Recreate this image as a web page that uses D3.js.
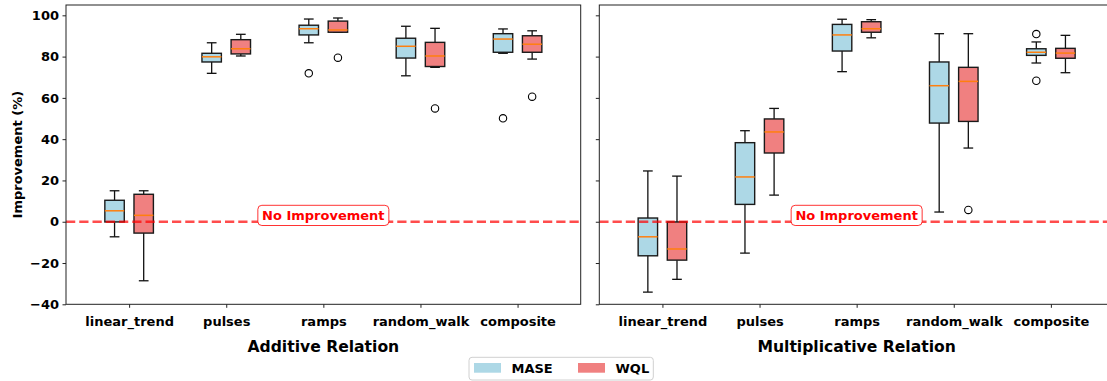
<!DOCTYPE html>
<html>
<head>
<meta charset="utf-8">
<script src="https://cdn.jsdelivr.net/npm/d3@7"></script>
<style>
  html, body { margin: 0; padding: 0; background: #fff; }
  svg { display: block; font-family: "DejaVu Sans", sans-serif; }
</style>
</head>
<body>
<svg id="chart" width="1107" height="381"></svg>
<script>
// Categories of synthetic signal types
const categories = ["linear_trend", "pulses", "ramps", "random_walk", "composite"];
const metrics = ["MASE", "WQL"];
const yTicks = [-40, -20, 0, 20, 40, 60, 80, 100];

// Box summaries per category: [lower whisker, Q1, median, Q3, upper whisker]
const additiveMASE = [
  [-7.3, -0.1, 5.3, 10.4, 15.0],
  [71.9, 77.4, 79.9, 81.6, 86.7],
  [86.7, 90.5, 93.5, 95.2, 98.2],
  [70.7, 79.3, 85.0, 88.9, 94.7],
  [81.6, 82.1, 88.5, 91.1, 93.4]
];
const additiveMASEOutliers = [[], [], [71.9], [], [50.1]];

const additiveWQL = [
  [-28.6, -5.5, 3.1, 13.3, 15.0],
  [80.3, 81.3, 83.8, 88.2, 90.8],
  [91.8, 91.8, 92.9, 97.2, 98.7],
  [74.8, 75.2, 80.3, 86.9, 93.7],
  [78.8, 82.1, 86.0, 90.1, 92.5]
];
const additiveWQLOutliers = [[], [], [79.5], [54.9], [60.6]];

const multiplicativeMASE = [
  [-34.1, -16.5, -7.3, 1.8, 24.6],
  [-15.2, 8.4, 21.7, 38.3, 44.1],
  [72.7, 82.7, 90.5, 95.6, 98.1],
  [4.7, 47.8, 65.9, 77.4, 91.1],
  [76.9, 80.6, 82.1, 83.8, 87.1]
];
const multiplicativeMASEOutliers = [[], [], [], [], [90.9, 68.3]];

const multiplicativeWQL = [
  [-27.9, -18.6, -13.2, -0.1, 22.1],
  [12.9, 33.3, 43.5, 49.8, 54.9],
  [89.1, 91.8, 93.5, 96.9, 97.9],
  [35.7, 48.6, 68.0, 74.8, 91.1],
  [72.2, 79.2, 81.7, 84.0, 90.3]
];
const multiplicativeWQLOutliers = [[], [], [], [5.7], []];

const panels = [
  { title: "Additive Relation", left: 66, right: 580.7, showY: true,
    series: [
      { name: "MASE", boxes: additiveMASE, outliers: additiveMASEOutliers },
      { name: "WQL", boxes: additiveWQL, outliers: additiveWQLOutliers }
    ] },
  { title: "Multiplicative Relation", left: 599.3, right: 1114, showY: false,
    series: [
      { name: "MASE", boxes: multiplicativeMASE, outliers: multiplicativeMASEOutliers },
      { name: "WQL", boxes: multiplicativeWQL, outliers: multiplicativeWQLOutliers }
    ] }
];

const fills = { MASE: "#add8e6", WQL: "#f08080" };
const offsets = { MASE: -0.15, WQL: 0.15 };
const boxWidth = 0.2;

const svg = d3.select("#chart");
const plotTop = 5.0, plotBottom = 304.3;
const y = d3.scaleLinear().domain([-40, 105]).range([plotBottom, plotTop]);

panels.forEach(p => {
  const x = d3.scaleLinear().domain([-0.65, 4.65]).range([p.left, p.right]);
  const g = svg.append("g");
  const bw = x(boxWidth) - x(0);

  // boxes
  p.series.forEach(s => {
    s.boxes.forEach((b, i) => {
      const [lo, q1, med, q3, hi] = b;
      const cx = x(i + offsets[s.name]);
      const bg = g.append("g");
      // whiskers
      bg.append("line").attr("x1", cx).attr("x2", cx).attr("y1", y(q3)).attr("y2", y(hi))
        .attr("stroke", "#111").attr("stroke-width", 1.3);
      bg.append("line").attr("x1", cx).attr("x2", cx).attr("y1", y(q1)).attr("y2", y(lo))
        .attr("stroke", "#111").attr("stroke-width", 1.3);
      // caps
      [lo, hi].forEach(v => {
        bg.append("line").attr("x1", cx - bw / 4).attr("x2", cx + bw / 4)
          .attr("y1", y(v)).attr("y2", y(v))
          .attr("stroke", "#111").attr("stroke-width", 1.3);
      });
      // box
      bg.append("rect")
        .attr("x", cx - bw / 2).attr("y", y(q3))
        .attr("width", bw).attr("height", y(q1) - y(q3))
        .attr("fill", fills[s.name])
        .attr("stroke", "#1a1a1a").attr("stroke-width", 1.4);
      // median
      bg.append("line").attr("x1", cx - bw / 2).attr("x2", cx + bw / 2)
        .attr("y1", y(med)).attr("y2", y(med))
        .attr("stroke", "#ff7f0e").attr("stroke-width", 1.5);
      // outliers
      s.outliers[i].forEach(v => {
        bg.append("circle").attr("cx", cx).attr("cy", y(v)).attr("r", 3.7)
          .attr("fill", "none").attr("stroke", "#000").attr("stroke-width", 1.1);
      });
    });
  });

  // zero reference line
  g.append("line")
    .attr("x1", p.left).attr("x2", p.right)
    .attr("y1", y(0)).attr("y2", y(0))
    .attr("stroke", "#ff0000").attr("stroke-opacity", 0.7)
    .attr("stroke-width", 2.5).attr("stroke-dasharray", "9.25,4");

  // annotation
  const cxm = (p.left + p.right) / 2;
  const ann = g.append("g");
  ann.append("rect")
    .attr("x", cxm - 65.5).attr("y", 205.3)
    .attr("width", 131).attr("height", 20.2)
    .attr("rx", 4).attr("ry", 4)
    .attr("fill", "#fff").attr("stroke", "#ff0000").attr("stroke-opacity", 0.8)
    .attr("stroke-width", 1);
  ann.append("text")
    .attr("x", cxm).attr("y", 215.5)
    .attr("text-anchor", "middle").attr("dominant-baseline", "central")
    .attr("font-size", "13px").attr("font-weight", "bold").attr("fill", "#ff0000")
    .text("No Improvement");

  // frame
  g.append("rect")
    .attr("x", p.left).attr("y", plotTop)
    .attr("width", p.right - p.left).attr("height", plotBottom - plotTop)
    .attr("fill", "none").attr("stroke", "#222").attr("stroke-width", 1);

  // x axis
  const xa = g.append("g").attr("transform", `translate(0,${plotBottom})`)
    .call(d3.axisBottom(x).tickValues(d3.range(categories.length))
      .tickFormat(i => categories[i]).tickSize(3.5).tickPadding(8.5));
  xa.select(".domain").remove();
  xa.selectAll(".tick line").attr("stroke", "#222");
  xa.selectAll(".tick text").attr("font-size", "13px").attr("font-weight", "bold")
    .attr("font-family", "DejaVu Sans").attr("fill", "#000");

  // y axis
  const ya = g.append("g").attr("transform", `translate(${p.left},0)`)
    .call(d3.axisLeft(y).tickValues(yTicks).tickSize(3.5).tickPadding(3.5)
      .tickFormat(p.showY ? d3.format("") : () => ""));
  ya.select(".domain").remove();
  ya.selectAll(".tick line").attr("stroke", "#222");
  ya.selectAll(".tick text").attr("font-size", "13px").attr("font-weight", "bold")
    .attr("font-family", "DejaVu Sans").attr("fill", "#000");

  // panel title
  svg.append("text")
    .attr("x", (p.left + p.right) / 2).attr("y", 347)
    .attr("text-anchor", "middle").attr("dominant-baseline", "central")
    .attr("font-size", "15.6px").attr("font-weight", "bold").attr("fill", "#000")
    .text(p.title);
});

// y label
svg.append("text")
  .attr("transform", `translate(17,${(plotTop + plotBottom) / 2}) rotate(-90)`)
  .attr("text-anchor", "middle").attr("dominant-baseline", "central")
  .attr("font-size", "13px").attr("font-weight", "bold").attr("fill", "#000")
  .text("Improvement (%)");

// legend
const lg = svg.append("g");
lg.append("rect").attr("x", 469).attr("y", 357.3).attr("width", 184.3).attr("height", 22.7)
  .attr("rx", 3).attr("fill", "#fff").attr("stroke", "#d0d0d0").attr("stroke-width", 1);
const legendX = { MASE: 474, WQL: 578 };
metrics.forEach(m => {
  lg.append("rect").attr("x", legendX[m]).attr("y", 363).attr("width", 27).attr("height", 9.7)
    .attr("fill", fills[m]);
  lg.append("text").attr("x", legendX[m] + 37.5).attr("y", 368)
    .attr("dominant-baseline", "central")
    .attr("font-size", "13px").attr("font-weight", "bold").attr("fill", "#000")
    .text(m);
});
</script>
</body>
</html>
